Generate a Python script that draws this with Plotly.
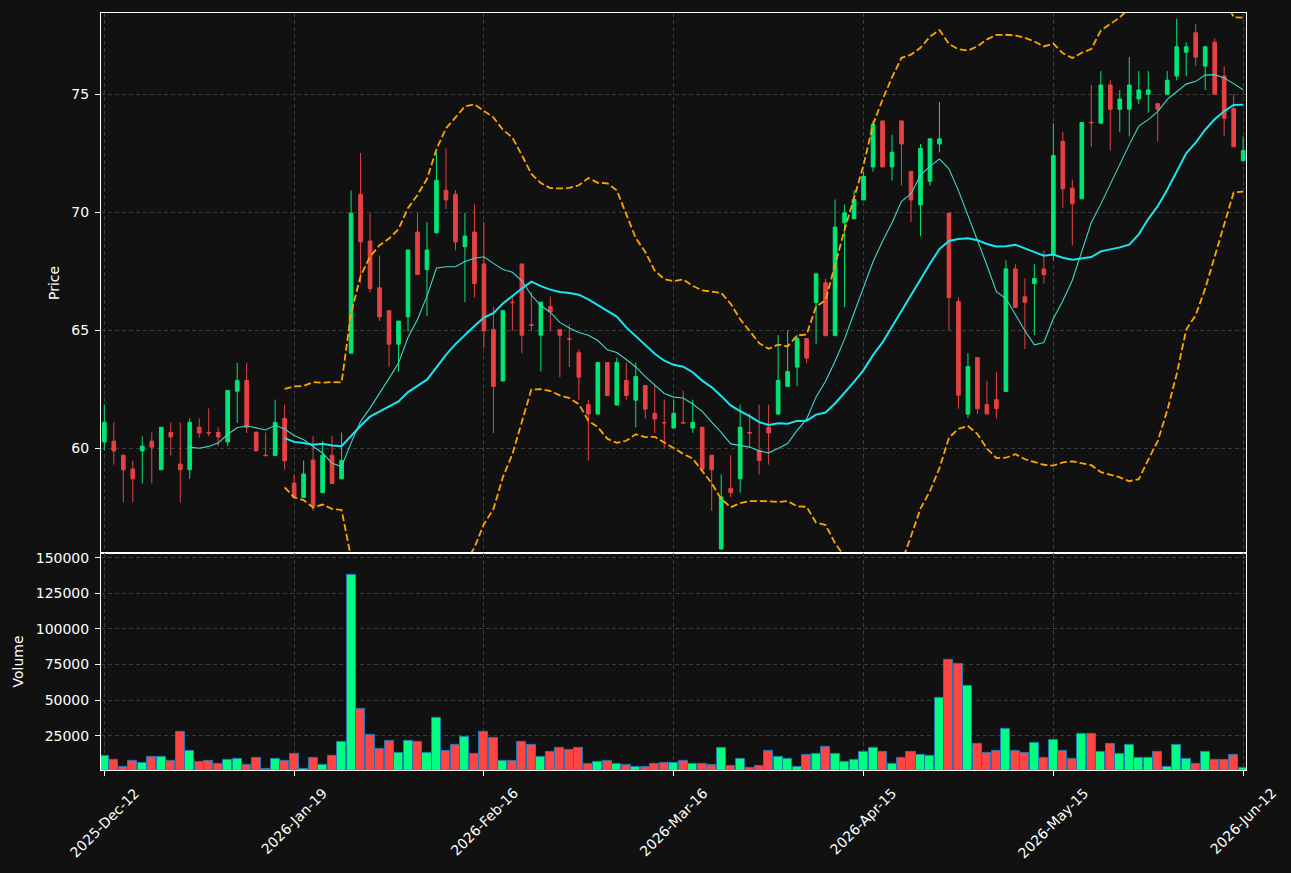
import plotly.graph_objects as go
import pandas as pd

# ---------------- data ----------------
tick_positions = [0, 20, 40, 60, 80, 100, 120]
tick_labels = ["2025-Dec-12", "2026-Jan-19", "2026-Feb-16", "2026-Mar-16",
               "2026-Apr-15", "2026-May-15", "2026-Jun-12"]

opens = [60.28, 60.31, 59.72, 59.13, 59.90, 60.31, 59.10, 60.68, 59.34, 59.10,
         60.90, 60.68, 60.68, 60.28, 62.43, 62.88, 60.68, 59.72, 59.70, 61.28,
         58.54, 57.92, 59.51, 58.13, 59.72, 58.72, 64.04, 70.77, 68.79, 66.81,
         65.84, 64.42, 65.58, 69.17, 67.58, 69.14, 70.94, 70.77, 68.55, 69.17,
         67.82, 65.04, 62.86, 66.20, 67.82, 65.24, 64.80, 66.01, 65.04, 64.65,
         64.06, 61.86, 61.46, 63.64, 61.84, 62.88, 62.05, 62.67, 61.49, 61.10,
         60.87, 61.10, 60.87, 60.90, 59.72, 55.74, 58.31, 58.72, 60.68, 59.92,
         60.90, 61.46, 62.63, 63.45, 64.66, 66.19, 67.02, 64.78, 69.56, 69.73,
         70.53, 71.93, 73.88, 71.93, 73.88, 71.74, 70.32, 71.32, 72.90, 69.97,
         66.22, 61.46, 63.85, 61.86, 62.07, 62.42, 67.61, 66.43, 66.99, 67.61,
         68.21, 73.01, 71.03, 70.58, 73.82, 73.78, 75.40, 74.37, 74.37, 74.81,
         75.01, 74.61, 75.01, 75.78, 76.79, 77.61, 76.20, 77.21, 75.78, 74.40,
         72.19]
highs = [61.86, 61.11, 59.72, 59.49, 60.52, 60.68, 60.90, 61.10, 61.10, 61.27,
         61.27, 61.70, 60.90, 62.46, 63.63, 63.63, 60.75, 60.68, 62.07, 61.86,
         58.90, 59.49, 60.52, 60.31, 60.52, 60.68, 70.93, 72.52, 69.97, 68.17,
         65.84, 65.40, 68.41, 69.97, 69.59, 72.55, 72.71, 70.94, 69.97, 70.34,
         69.59, 66.01, 65.84, 66.44, 67.82, 66.64, 66.20, 66.44, 65.04, 65.25,
         64.20, 62.07, 63.64, 63.64, 63.84, 63.64, 63.64, 62.67, 62.67, 62.07,
         62.07, 62.45, 62.07, 60.90, 59.72, 58.90, 59.72, 61.86, 61.49, 61.86,
         61.86, 64.81, 65.02, 64.81, 64.66, 67.40, 67.20, 70.55, 70.34, 70.93,
         71.73, 73.88, 73.88, 73.29, 73.88, 71.74, 72.90, 73.12, 74.68, 69.97,
         66.40, 64.04, 63.85, 62.87, 63.23, 67.97, 67.81, 67.20, 67.81, 68.38,
         73.78, 73.42, 71.39, 73.81, 75.40, 75.99, 75.60, 75.19, 76.58, 75.99,
         75.99, 74.61, 75.99, 78.20, 77.21, 78.00, 77.02, 77.37, 76.20, 75.01,
         73.22]
lows = [59.92, 59.32, 57.72, 57.72, 58.52, 58.52, 59.10, 59.70, 57.72, 58.72,
        60.45, 60.52, 60.10, 60.10, 61.08, 60.66, 59.90, 59.68, 59.70, 59.10,
        57.92, 57.92, 57.36, 58.13, 58.52, 58.72, 64.04, 67.00, 66.62, 65.40,
        63.46, 63.26, 64.95, 67.37, 65.61, 69.14, 70.15, 68.40, 66.20, 66.40,
        64.25, 60.66, 62.86, 64.99, 64.04, 64.99, 63.26, 64.99, 63.02, 63.45,
        62.07, 59.49, 61.46, 62.25, 61.84, 62.07, 60.90, 61.27, 60.66, 60.03,
        60.87, 61.08, 60.66, 59.10, 57.36, 55.74, 57.95, 58.13, 60.03, 58.90,
        59.32, 61.46, 62.63, 62.64, 63.61, 64.42, 64.78, 64.78, 65.99, 69.73,
        70.53, 71.73, 71.93, 71.35, 71.14, 69.59, 68.99, 71.14, 72.55, 65.01,
        61.69, 61.30, 61.46, 61.46, 61.27, 62.42, 65.98, 64.22, 64.81, 66.99,
        67.97, 70.20, 68.61, 70.58, 72.78, 73.78, 72.62, 73.42, 73.22, 74.60,
        74.23, 73.01, 75.01, 75.60, 75.78, 76.20, 75.19, 75.01, 73.22, 72.78,
        72.19]
closes = [61.11, 59.90, 59.10, 58.72, 60.10, 60.06, 60.90, 60.49, 59.10, 61.11,
          60.66, 60.66, 60.49, 62.46, 62.88, 60.89, 59.90, 59.70, 61.11, 59.48,
          57.92, 58.92, 57.57, 59.72, 58.52, 59.49, 69.97, 68.75, 66.77, 65.58,
          64.42, 65.40, 68.41, 67.37, 68.41, 71.36, 70.53, 68.75, 69.00, 66.99,
          64.99, 62.63, 65.84, 66.18, 64.80, 65.22, 66.20, 65.80, 64.80, 64.64,
          63.02, 61.46, 63.64, 62.25, 63.64, 62.25, 63.05, 61.67, 61.25, 61.09,
          61.49, 61.08, 61.10, 59.10, 59.10, 57.95, 58.13, 60.90, 60.66, 59.49,
          60.66, 62.88, 63.26, 64.66, 63.83, 67.40, 64.78, 69.38, 69.99, 70.55,
          71.53, 73.73, 71.93, 72.55, 72.90, 70.53, 72.71, 73.12, 73.12, 66.40,
          62.26, 63.47, 61.69, 61.46, 61.69, 67.61, 65.98, 66.19, 67.20, 67.37,
          72.41, 71.00, 70.37, 73.81, 73.80, 75.40, 74.37, 74.81, 75.40, 75.19,
          75.19, 74.37, 75.60, 77.02, 77.02, 76.58, 77.02, 75.01, 73.99, 72.78,
          72.62]
volumes = [11060, 8270, 3160, 7570, 6180, 10130, 10130, 7570, 27780, 14540,
           6880, 7570, 5480, 8270, 8970, 4790, 9660, 2000, 8970, 7570,
           12450, 2000, 9660, 4790, 11060, 20810, 137900, 43810, 25690, 15940,
           21510, 13150, 21510, 20810, 13150, 37540, 14540, 18720, 24300, 12000,
           27780, 23600, 7570, 7570, 20810, 18720, 10360, 13850, 16630, 15240,
           16630, 5480, 6880, 7570, 5480, 4790, 3160, 3160, 5480, 6180,
           6180, 7570, 5480, 5480, 4790, 16630, 4090, 8970, 2700, 4090,
           14540, 10360, 8970, 3390, 11750, 12450, 17330, 12450, 6880, 8270,
           13850, 16630, 13850, 5480, 9660, 13850, 11750, 11060, 51470, 77950,
           75160, 59830, 19420, 13150, 14540, 29870, 14540, 13150, 20120, 9660,
           22210, 14540, 8970, 26390, 26390, 13850, 19420, 12450, 18720, 9660,
           9660, 13850, 3390, 18720, 8970, 5480, 13850, 8270, 8270, 11750,
           2700]

idx = list(range(len(closes)))

# indicators derived from closes
cs = pd.Series(closes)
ma10 = cs.rolling(10).mean()
ma20 = cs.rolling(20).mean()
sd20 = cs.rolling(20).std()
bb_up = ma20 + 2 * sd20
bb_lo = ma20 - 2 * sd20

# ---------------- style ----------------
BG = "#111111"
GRID = "#3c3c3c"
UP_C, DN_C = "#00E676", "#E84142"
VUP_C, VDN_C = "#00FF80", "#FF4444"
FONT = dict(family="DejaVu Sans", size=14, color="white")

vol_colors = [VUP_C if c >= o else VDN_C for o, c in zip(opens, closes)]

fig = go.Figure()

fig.add_trace(go.Candlestick(
    x=idx, open=opens, high=highs, low=lows, close=closes,
    increasing=dict(line=dict(color=UP_C, width=1), fillcolor=UP_C),
    decreasing=dict(line=dict(color=DN_C, width=1), fillcolor=DN_C),
    whiskerwidth=0, xaxis="x", yaxis="y", showlegend=False, hoverinfo="skip"))

fig.add_trace(go.Scatter(x=idx, y=ma10, mode="lines",
                         line=dict(color="#40D8CC", width=1.1),
                         xaxis="x", yaxis="y", showlegend=False))
fig.add_trace(go.Scatter(x=idx, y=ma20, mode="lines",
                         line=dict(color="#19E6F2", width=2),
                         xaxis="x", yaxis="y", showlegend=False))
for band in (bb_up, bb_lo):
    fig.add_trace(go.Scatter(x=idx, y=band, mode="lines",
                             line=dict(color="#FFA500", width=1.8, dash="7px,3px"),
                             xaxis="x", yaxis="y", showlegend=False))

fig.add_trace(go.Bar(x=idx, y=volumes, marker=dict(color=vol_colors,
                     line=dict(color="#1f77b4", width=1)),
                     width=0.95, xaxis="x2", yaxis="y2", showlegend=False))

split = (770 - 552) / 760.0
xr = [-0.35, 120.3]

common_x = dict(range=xr, tickvals=tick_positions, showgrid=True, gridcolor=GRID,
                griddash="4px,3px", gridwidth=1, showline=True, mirror=True,
                linecolor="white", linewidth=1, zeroline=False)

fig.update_layout(
    width=1291, height=873,
    margin=dict(l=101, r=45, t=10, b=103),
    paper_bgcolor=BG, plot_bgcolor=BG,
    font=FONT, boxgap=0.45, bargap=0,
    xaxis=dict(common_x, anchor="y", showticklabels=False, ticks="",
               rangeslider=dict(visible=False)),
    xaxis2=dict(common_x, anchor="y2", matches="x", showticklabels=False,
                ticks="outside", ticklen=5, tickcolor="white"),
    yaxis=dict(domain=[split, 1], range=[55.58, 78.45], tickvals=[60, 65, 70, 75],
               showgrid=True, gridcolor=GRID, griddash="4px,3px",
               showline=True, mirror=True, linecolor="white", linewidth=1,
               ticks="outside", ticklen=5, tickcolor="white", zeroline=False,
               ticklabelstandoff=3,
               title=dict(text="Price", standoff=8, font=FONT)),
    yaxis2=dict(domain=[0, split], range=[900, 153400],
                tickvals=[25000, 50000, 75000, 100000, 125000, 150000],
                tickformat="d",
                showgrid=True, gridcolor=GRID, griddash="4px,3px",
                showline=True, mirror=True, linecolor="white", linewidth=1,
                ticks="outside", ticklen=5, tickcolor="white", zeroline=False,
                ticklabelstandoff=3,
                title=dict(text="Volume", standoff=8, font=FONT)),
)

for pos, lab in zip(tick_positions, tick_labels):
    fig.add_annotation(x=pos, xref="x2", y=0, yref="paper", text=lab,
                       textangle=-45, xanchor="center", yanchor="top",
                       yshift=-12, showarrow=False, font=FONT)

fig.write_html("out.html")
